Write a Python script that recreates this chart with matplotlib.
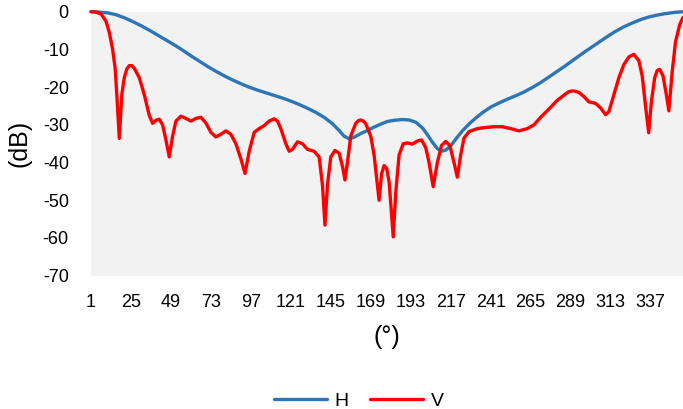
import matplotlib

matplotlib.use("Agg")
import matplotlib.pyplot as plt

# angle (deg) / level (dB)
h_deg = [1, 6, 11, 16, 21, 26, 31, 36, 41, 46, 51, 56, 61, 66, 71, 76, 81, 86, 91, 96,
         101, 106, 111, 116, 121, 126, 131, 136, 141, 146, 150, 153, 156, 159, 163, 167,
         171, 175, 179, 183, 188, 192, 196, 200, 203, 206, 209, 211.5, 214, 217, 220, 224,
         228, 232, 236, 241, 246, 251, 256, 261, 266, 271, 276, 281, 286, 291, 296, 301,
         306, 311, 316, 321, 326, 331, 336, 341, 346, 351, 356.5]
h_db = [0, -0.1, -0.3, -0.8, -1.6, -2.6, -3.7, -4.9, -6.2, -7.5, -8.8, -10.2, -11.7, -13.1,
        -14.5, -15.8, -17, -18.1, -19.1, -20, -20.8, -21.5, -22.2, -22.9, -23.7, -24.6,
        -25.6, -26.7, -28, -29.7, -31.5, -33, -33.7, -33.3, -32.3, -31.5, -30.6, -29.8,
        -29.1, -28.8, -28.6, -28.7, -29.3, -30.8, -32.6, -34.6, -36.3, -37, -36.7, -35.6,
        -33.8, -31.6, -29.8, -28.2, -26.8, -25.3, -24.2, -23.2, -22.3, -21.3, -20.1, -18.8,
        -17.3, -15.8, -14.3, -12.7, -11.1, -9.6, -8.1, -6.6, -5.2, -4, -3, -2.1, -1.4,
        -0.9, -0.5, -0.2, 0]

v_deg = [1, 4, 7, 10, 12, 14, 15.5, 16.5, 18, 19.5, 21, 22.5, 24, 25.5, 27, 30, 33, 36,
         38, 40, 42, 44, 46, 48, 50, 52, 55, 58, 61, 64, 67, 70, 73, 76, 79, 82, 85, 88,
         91, 93.5, 96, 99, 102, 105, 108, 111, 113, 115, 118, 120, 122, 125, 128, 131, 135,
         138, 140, 141.5, 143, 145, 147.5, 150, 152, 153.5, 155, 157, 160, 161.5, 163,
         164.5, 166, 169, 171, 172.5, 174, 175.5, 177, 178.5, 180, 182.5, 184, 186, 188.5,
         191, 194, 197, 199.5, 202, 204, 206.5, 209, 211.5, 214, 216.5, 219, 221, 223, 225,
         228, 233, 238, 243, 248, 253, 258, 263, 267, 271, 276, 281, 286, 288, 290, 292,
         294, 297, 300, 304, 307, 310, 312, 315, 318, 321, 324, 327, 330, 332, 334, 335.9,
         337.5, 339.5, 341, 342.5, 344.5, 346.5, 348, 350, 352, 354.5, 356.5]
v_db = [0, -0.1, -0.6, -2.5, -5.5, -10, -15, -22, -33.6, -22, -17.5, -15.2, -14.3, -14.3,
        -15, -17.5, -22, -27.5, -29.6, -28.8, -28.5, -30, -34, -38.5, -33, -29, -27.7,
        -28.3, -29, -28.3, -28, -29.5, -32, -33.2, -32.5, -31.6, -32.5, -35, -39, -42.9,
        -37, -32, -31, -30.2, -29, -28.4, -29, -31, -35, -37, -36.5, -34.5, -35, -36.5,
        -37, -38.5, -46, -56.6, -46, -38.5, -36.8, -37.5, -41, -44.6, -40, -33, -29.6,
        -28.9, -28.7, -29, -29.7, -33, -38, -44, -50, -43, -40.8, -41.5, -45, -59.7, -48,
        -38, -35, -34.8, -35.1, -34.3, -34, -36, -40, -46.4, -40, -35.5, -34.4, -35.5, -40,
        -43.9, -38, -33.5, -31.8, -31, -30.7, -30.5, -30.5, -31, -31.6, -31, -30, -28,
        -25.8, -23.5, -21.8, -21.2, -21, -21.1, -21.4, -22.5, -23.9, -24.3, -25.5, -27.3,
        -26.5, -22, -17.5, -14, -12, -11.3, -13, -17, -25, -32.1, -24, -17.5, -15.6, -15.3,
        -17, -22, -26.3, -16, -8, -3.5, -1.5]

x_ticks = list(range(1, 338, 24))
y_ticks = list(range(-70, 1, 10))

plt.rcParams["axes.unicode_minus"] = False
plt.rcParams["font.family"] = ["Liberation Sans", "DejaVu Sans"]

fig = plt.figure(figsize=(6.83, 4.09), dpi=100)
ax = fig.add_axes([91 / 683, 133.3 / 409, 1 - 91 / 683, 264 / 409])
ax.set_facecolor("#f2f2f2")

line_kw = dict(lw=2.4, clip_on=False, solid_capstyle="round", solid_joinstyle="round")
ax.plot(h_deg, h_db, color="#2e75b6", label="H", **line_kw)
ax.plot(v_deg, v_db, color="#ff0000", label="V", **line_kw)

ax.set_xlim(1, 356.5)
ax.set_ylim(-70, 0)
ax.set_xticks(x_ticks)
ax.set_yticks(y_ticks)
for s in ax.spines.values():
    s.set_visible(False)
ax.tick_params(axis="both", length=0, labelsize=13)
ax.tick_params(axis="x", pad=13)
ax.tick_params(axis="y", pad=16)

ax.set_ylabel("(dB)", fontsize=18, labelpad=8)
ax.set_xlabel("(°)", fontsize=18, labelpad=10)

fig.legend(loc="center", bbox_to_anchor=(359 / 683, 1 - 401 / 409), ncol=2, frameon=False,
           handlelength=2.7, handletextpad=0.4, columnspacing=1.1, prop={"size": 14})

fig.savefig("out.png", dpi=100)
